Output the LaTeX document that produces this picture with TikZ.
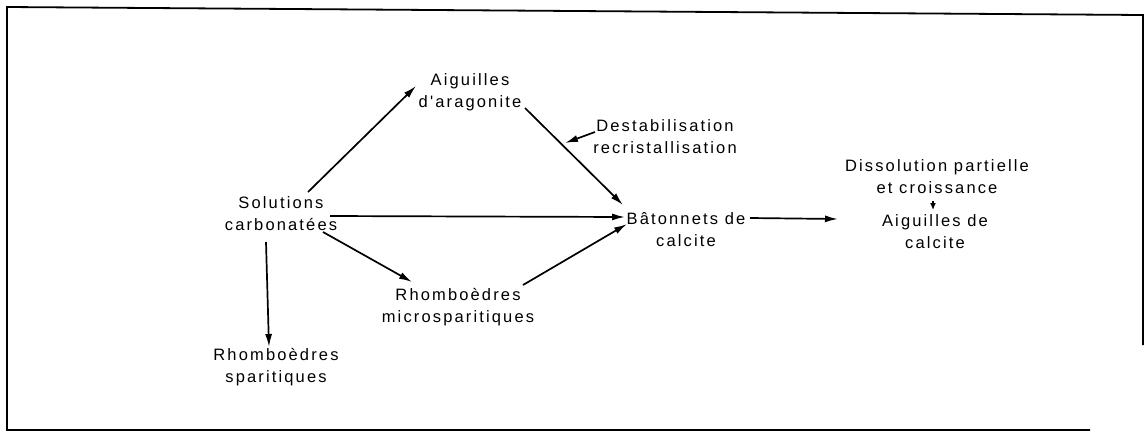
\documentclass[tikz,border=0pt]{standalone}
\usepackage{fontspec}
\newfontfamily\labfont[LetterSpace=13]{Liberation Sans}
\usetikzlibrary{arrows.meta}
\begin{document}
\begin{tikzpicture}[x=1pt,y=-1pt,
  lbl/.style={align=center,inner sep=0pt,font=\labfont\fontsize{16.5}{22}\selectfont},
  flow/.style={line width=1.7pt,-{Latex[length=13pt,width=7pt]}},
  tiny/.style={line width=1.3pt,-{Latex[length=7pt,width=6pt]}},
  frame/.style={line width=1.8pt}]
\useasboundingbox (0,0) rectangle (1145,437);
% outer frame
\draw[frame] (1090,430) -- (7,430) -- (7,7) -- (1143,15) -- (1143,345);
% labels
\node[lbl] (sol)  at (281,213.5) {Solutions\\carbonatées};
\node[lbl] (arag) at (470,92)    {Aiguilles\\d'aragonite};
\node[lbl] (dest) at (665,137)   {Destabilisation\\recristallisation};
\node[lbl] (bat)  at (686,230)   {Bâtonnets de\\calcite};
\node[lbl] (diss) at (937,177)   {Dissolution partielle\\et croissance};
\node[lbl] (aigc) at (935,232)   {Aiguilles de\\calcite};
\node[lbl] (rmic) at (458,307)   {Rhomboèdres\\microsparitiques};
\node[lbl] (rspa) at (276,367)   {Rhomboèdres\\sparitiques};
% connectors
\draw[flow] ([shift={(27,-21.5)}]sol.center) -- ([shift={(-54,-6)}]arag.center);
\draw[flow] ([shift={(55,16)}]arag.center) -- ([shift={(-63,-25)}]bat.center);
\draw[flow] ([shift={(-70,-5)}]dest.center) -- ([shift={(-100,6)}]dest.center);
\draw[flow] ([shift={(49,2.5)}]sol.center) -- ([shift={(-61,-13)}]bat.center);
\draw[flow] ([shift={(65,-22)}]rmic.center) -- ([shift={(-59,-6)}]bat.center);
\draw[flow] ([shift={(42,18.5)}]sol.center) -- ([shift={(-46,-25)}]rmic.center);
\draw[flow] ([shift={(-15,28.5)}]sol.center) -- ([shift={(-7,-20)}]rspa.center);
\draw[flow] ([shift={(64,-12)}]bat.center) -- ([shift={(-97,-13)}]aigc.center);
\draw[tiny] ([shift={(-4,24)}]diss.center) -- ([shift={(-2,-22)}]aigc.center);
\end{tikzpicture}
\end{document}
